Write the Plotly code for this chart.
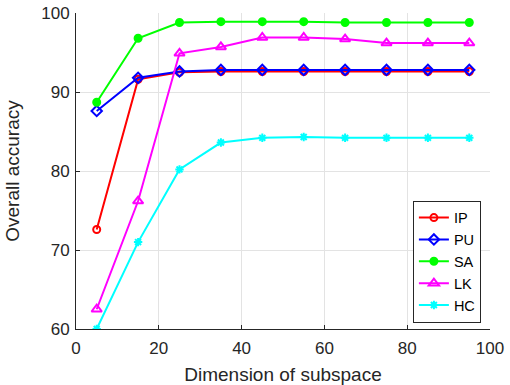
import plotly.graph_objects as go

dims = [5, 15, 25, 35, 45, 55, 65, 75, 85, 95]
ip = [72.6, 91.6, 92.5, 92.6, 92.6, 92.6, 92.6, 92.6, 92.6, 92.6]
pu = [87.6, 91.8, 92.6, 92.8, 92.8, 92.8, 92.8, 92.8, 92.8, 92.8]
sa = [88.7, 96.8, 98.8, 98.9, 98.9, 98.9, 98.8, 98.8, 98.8, 98.8]
lk = [62.5, 76.2, 94.9, 95.7, 96.9, 96.9, 96.7, 96.2, 96.2, 96.2]
hc = [60.0, 71.0, 80.2, 83.6, 84.2, 84.3, 84.2, 84.2, 84.2, 84.2]

series = [
    ("IP", ip, "#FF0000", "circle-open", 7),
    ("PU", pu, "#0000FF", "diamond-open", 8),
    ("SA", sa, "#00FF00", "circle", 7),
    ("LK", lk, "#FF00FF", "triangle-up-open", 9),
    ("HC", hc, "#00FFFF", "asterisk-open", 7),
]

fig = go.Figure()
for name, ys, col, sym, sz in series:
    fig.add_trace(go.Scatter(
        x=dims, y=ys, name=name, mode="lines+markers",
        line=dict(color=col, width=2),
        marker=dict(symbol=sym, size=sz, color=col, line=dict(color=col, width=2)),
    ))

font = dict(family="Liberation Sans, Arial, sans-serif", color="#262626")
axis_common = dict(
    showgrid=True, gridcolor="#E3E3E3", gridwidth=1,
    showline=True, linecolor="#262626", linewidth=1,
    ticks="inside", ticklen=4, tickcolor="#262626",
    zeroline=False, tickfont=dict(size=17, **font),
    automargin=False,
)
fig.update_layout(
    width=510, height=385,
    margin=dict(l=76, r=20, t=13, b=56),
    paper_bgcolor="white", plot_bgcolor="white",
    xaxis=dict(range=[0, 100], dtick=20, ticklabelstandoff=4,
               title=dict(text="Dimension of subspace", font=dict(size=19, **font), standoff=11),
               **axis_common),
    yaxis=dict(range=[60, 100], dtick=10, ticklabelstandoff=2,
               title=dict(text="Overall accuracy", font=dict(size=19, **font), standoff=16),
               **axis_common),
    legend=dict(x=0.978, y=0.02, xanchor="right", yanchor="bottom",
                bordercolor="#262626", borderwidth=1, bgcolor="white",
                font=dict(size=14.5, family="Liberation Sans, Arial, sans-serif", color="#000000"),
                tracegroupgap=0, itemwidth=30),
    showlegend=True,
)

fig.write_html("out.html", config={"displayModeBar": False},
               post_script="document.body.style.margin='0';document.body.style.padding='0';")
